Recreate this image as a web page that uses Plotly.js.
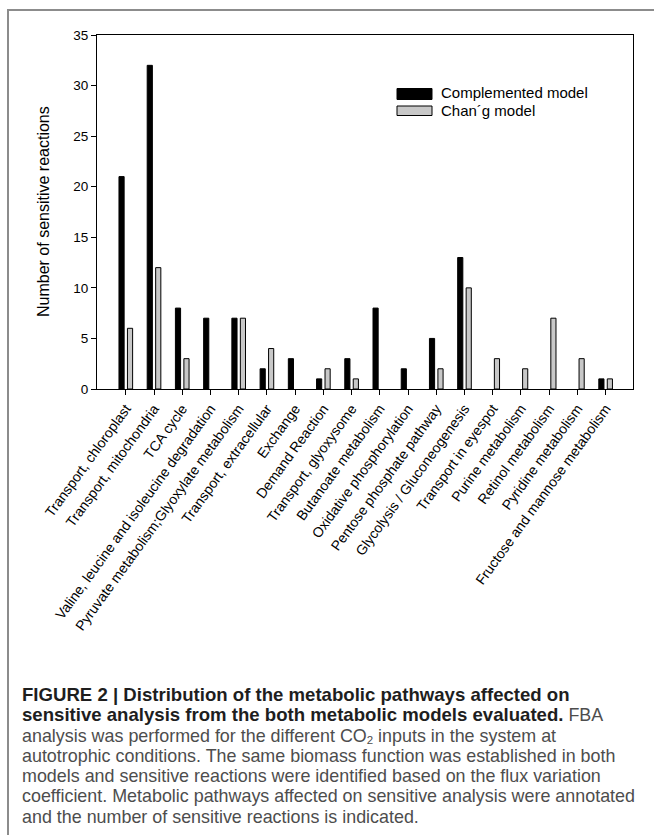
<!DOCTYPE html>
<html>
<head>
<meta charset="utf-8">
<script src="https://cdn.plot.ly/plotly-3.0.1.min.js"></script>
<style>
  html, body { margin: 0; padding: 0; background: #fff; }
  body { width: 654px; height: 835px; position: relative; overflow: hidden; }
  #frame {
    position: absolute; left: 7px; top: 9px; width: 660px; height: 824px;
    border-left: 2px solid #8c8c8c; border-top: 2px solid #8c8c8c;
    pointer-events: none;
  }
  #chart { position: absolute; left: 0; top: 0; width: 654px; height: 640px; }
  #caption {
    position: absolute; left: 22px; top: 685px;
    font-family: "Liberation Sans", Arial, sans-serif;
    font-size: 17.9px; line-height: 20.3px; color: #4d4d4d;
    white-space: nowrap;
  }
  #caption b { color: #1e1e1e; font-size: 18.6px; }
  #caption sub { font-size: 11.5px; line-height: 0; vertical-align: -2px; }
</style>
</head>
<body>
<div id="frame"></div>
<div id="chart"></div>
<div id="caption">
  <b>FIGURE 2 | Distribution of the metabolic pathways affected on</b><br>
  <b>sensitive analysis from the both metabolic models evaluated.</b> FBA<br>
  analysis was performed for the different CO<sub>2</sub> inputs in the system at<br>
  autotrophic conditions. The same biomass function was established in both<br>
  models and sensitive reactions were identified based on the flux variation<br>
  coefficient. Metabolic pathways affected on sensitive analysis were annotated<br>
  and the number of sensitive reactions is indicated.
</div>
<script>
// Metabolic pathways on the x axis
const pathways = [
  "Transport, chloroplast",
  "Transport, mitochondria",
  "TCA cycle",
  "Valine, leucine and isoleucine degradation",
  "Pyruvate metabolism;Glyoxylate metabolism",
  "Transport, extracellular",
  "Exchange",
  "Demand Reaction",
  "Transport, glyoxysome",
  "Butanoate metabolism",
  "Oxidative phosphorylation",
  "Pentose phosphate pathway",
  "Glycolysis / Gluconeogenesis",
  "Transport in eyespot",
  "Purine metabolism",
  "Retinol metabolism",
  "Pyridine metabolism",
  "Fructose and mannose metabolism"
];

// Number of sensitive reactions per pathway
const complementedModel = [21, 32, 8, 7, 7, 2, 3, 1, 3, 8, 2, 5, 13, 0, 0, 0, 0, 1];
const changModel        = [6, 12, 3, 0, 7, 4, 0, 2, 1, 0, 0, 2, 10, 3, 2, 7, 3, 1];

const seriesNames = ["Complemented model", "Chan\u00B4g model"];
const yTicks = [0, 5, 10, 15, 20, 25, 30, 35];

const FONT = "Liberation Sans, Arial, sans-serif";

// no outline on empty bars, so a zero count leaves no stub on the axis
const outlineWidths = vals => vals.map(v => (v > 0 ? 1 : 0));

const traces = [
  {
    type: "bar", name: seriesNames[0], x: pathways, y: complementedModel,
    marker: { color: "#000000", line: { color: "#000000", width: outlineWidths(complementedModel) } },
    hoverinfo: "skip"
  },
  {
    type: "bar", name: seriesNames[1], x: pathways, y: changModel,
    marker: { color: "#c8c8c8", line: { color: "#000000", width: outlineWidths(changModel) } },
    hoverinfo: "skip"
  }
];

// plot area in pixels: left 97, right 633, top 35, bottom 389
const L = 97, R = 633, T = 35, B = 389;
const px = v => (v - L) / (R - L);
const py = v => (B - v) / (B - T);

const layout = {
  width: 654, height: 640,
  margin: { l: L, r: 654 - R, t: T, b: 640 - B },
  paper_bgcolor: "rgba(0,0,0,0)",
  plot_bgcolor: "#ffffff",
  barmode: "group",
  bargap: 0.4,
  bargroupgap: 0.39,
  showlegend: false,
  font: { family: FONT, color: "#000000", size: 14 },
  xaxis: {
    type: "category",
    range: [-1.02, 17.97],
    showline: true, linecolor: "#000000", linewidth: 1, mirror: true,
    ticks: "outside", ticklen: 5, tickcolor: "#000000", tickwidth: 1,
    tickangle: -54,
    tickfont: { family: FONT, size: 14, color: "#000000" },
    showgrid: false, zeroline: false, fixedrange: true
  },
  yaxis: {
    range: [0, 35],
    tickvals: yTicks,
    ticktext: yTicks.map(String),
    showline: true, linecolor: "#000000", linewidth: 1, mirror: true,
    ticks: "outside", ticklen: 5, tickcolor: "#000000", tickwidth: 1,
    tickfont: { family: FONT, size: 13.5, color: "#000000" },
    showgrid: false, zeroline: false, fixedrange: true
  },
  shapes: [
    { type: "rect", xref: "paper", yref: "paper",
      x0: px(397), x1: px(432), y0: py(99.5), y1: py(88.5),
      fillcolor: "#000000", line: { color: "#000000", width: 1 } },
    { type: "rect", xref: "paper", yref: "paper",
      x0: px(397), x1: px(432), y0: py(115.5), y1: py(106),
      fillcolor: "#c8c8c8", line: { color: "#000000", width: 1 } }
  ],
  annotations: [
    { xref: "paper", yref: "paper", x: px(439), y: py(92.5), xanchor: "left", yanchor: "middle",
      text: seriesNames[0], showarrow: false,
      font: { family: FONT, size: 15, color: "#000000" } },
    { xref: "paper", yref: "paper", x: px(439), y: py(110.5), xanchor: "left", yanchor: "middle",
      text: seriesNames[1], showarrow: false,
      font: { family: FONT, size: 15, color: "#000000" } },
    { xref: "paper", yref: "paper", x: px(43), y: 0.5, xanchor: "center", yanchor: "middle",
      text: "Number of sensitive reactions", textangle: -90, showarrow: false,
      font: { family: FONT, size: 16, color: "#000000" } }
  ]
};

Plotly.newPlot("chart", traces, layout, { staticPlot: true, displayModeBar: false });
</script>
</body>
</html>
